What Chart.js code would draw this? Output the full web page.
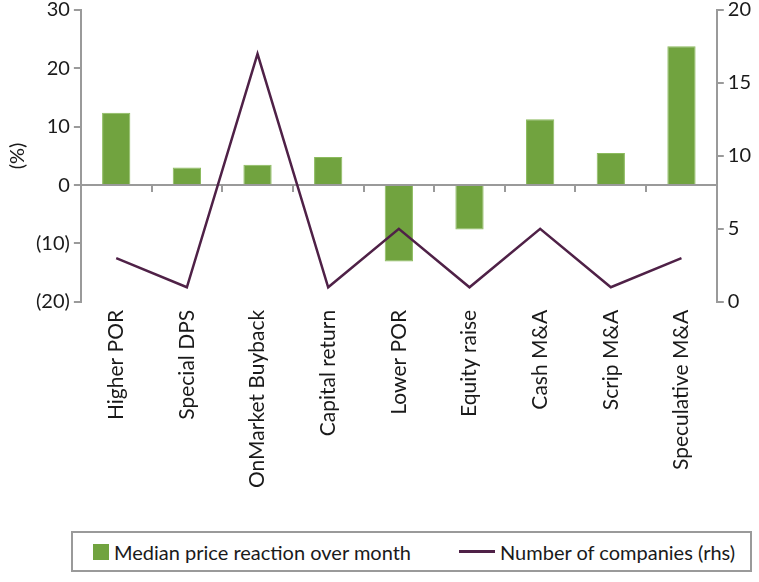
<!DOCTYPE html>
<html>
<head>
<meta charset="utf-8">
<script src="https://cdn.jsdelivr.net/npm/chart.js@4.4.1/dist/chart.umd.min.js"></script>
<style>
    html, body { margin: 0; padding: 0; background: #fff; overflow: hidden; }
    #wrap { position: relative; width: 759px; height: 582px; overflow: hidden; }
    #chart { position: absolute; left: 0; top: -6px; }
    #legend {
        position: absolute; left: 71px; top: 531px; width: 681px; height: 41px;
        border: 2px solid #9a9a9a; box-sizing: border-box;
        font-family: Lato, "Noto Sans", sans-serif; font-size: 20px; color: #1a1a1a;
        display: flex; align-items: center;
    }
    #legend .item { display: flex; align-items: center; white-space: nowrap; }
    #legend .mark { display: inline-block; margin-right: 5px; }
</style>
</head>
<body>
<div id="wrap">
    <canvas id="chart" width="759" height="528"></canvas>
    <div id="legend"></div>
</div>
<script>
    const categories = ["Higher POR", "Special DPS", "OnMarket Buyback", "Capital return",
        "Lower POR", "Equity raise", "Cash M&A", "Scrip M&A", "Speculative M&A"];
    const priceReaction = [12.4, 3.0, 3.5, 4.8, -13.1, -7.6, 11.3, 5.5, 23.8];
    const companyCount = [3, 1, 17, 1, 5, 1, 5, 1, 3];
    const leftTicks = [-20, -10, 0, 10, 20, 30];
    const rightTicks = [0, 5, 10, 15, 20];

    const GREEN = "#71a33f",
        PURPLE = "#4f2147",
        AXIS = "#9a9a9a",
        FONT = "Lato, 'Noto Sans', sans-serif";

    function bracketNeg(v) {
        return v < 0 ? "(" + Math.abs(v) + ")" : String(v);
    }

    const chart = new Chart(document.getElementById("chart"), {
        type: "bar",
        data: {
            labels: categories,
            datasets: [{
                type: "bar",
                label: "Median price reaction over month",
                data: priceReaction,
                backgroundColor: GREEN,
                borderColor: "#8cbb5e",
                borderWidth: 1,
                barPercentage: 0.8,
                categoryPercentage: 0.5,
                yAxisID: "y",
                order: 2
            }, {
                type: "line",
                label: "Number of companies (rhs)",
                data: companyCount,
                borderColor: PURPLE,
                borderWidth: 2.5,
                pointRadius: 0,
                tension: 0,
                yAxisID: "y2",
                order: 1
            }]
        },
        options: {
            responsive: false,
            animation: false,
            layout: { padding: { left: 6, right: 4, top: 0, bottom: 26 } },
            plugins: {
                legend: { display: false },
                tooltip: { enabled: false }
            },
            scales: {
                x: {
                    position: "bottom",
                    grid: { display: false, drawTicks: false },
                    border: { display: false },
                    ticks: {
                        minRotation: 90, maxRotation: 90, padding: 8,
                        color: "#1a1a1a", font: { family: FONT, size: 21 }
                    }
                },
                xZero: {
                    type: "category",
                    labels: categories,
                    position: { y: 0 },
                    offset: true,
                    grid: {
                        display: true, drawOnChartArea: false, offset: true,
                        tickLength: 6, color: AXIS, lineWidth: 2
                    },
                    border: { display: true, color: AXIS, width: 2 },
                    ticks: { display: false }
                },
                y: {
                    position: "left",
                    min: -20, max: 30,
                    afterBuildTicks: axis => { axis.ticks = leftTicks.map(v => ({ value: v })); },
                    grid: { drawOnChartArea: false, tickLength: 7, color: AXIS, lineWidth: 2 },
                    border: { display: true, color: AXIS, width: 2 },
                    ticks: {
                        padding: 4, color: "#1a1a1a",
                        font: { family: FONT, size: 20 },
                        callback: v => bracketNeg(v)
                    },
                    title: {
                        display: true, text: "(%)", color: "#1a1a1a",
                        font: { family: FONT, size: 20 }, padding: { top: 0, bottom: 2 }
                    }
                },
                y2: {
                    position: "right",
                    min: 0, max: 20,
                    afterBuildTicks: axis => { axis.ticks = rightTicks.map(v => ({ value: v })); },
                    grid: { drawOnChartArea: false, tickLength: 7, color: AXIS, lineWidth: 2 },
                    border: { display: true, color: AXIS, width: 2 },
                    ticks: {
                        padding: 4, color: "#1a1a1a",
                        font: { family: FONT, size: 20 }
                    }
                }
            }
        }
    });

    // html legend built from the datasets
    const $legend = document.getElementById("legend");
    $legend.innerHTML = chart.data.datasets.map((ds, idx) => {
        const mark = ds.type === "bar"
            ? `<span class="mark" style="width:16px;height:16px;background:${ds.backgroundColor}"></span>`
            : `<span class="mark" style="width:36px;height:3px;background:${ds.borderColor}"></span>`;
        const gap = idx === 0 ? "margin-left:20px" : "margin-left:48px";
        return `<span class="item" style="${gap}">${mark}${ds.label}</span>`;
    }).join("");
</script>
</body>
</html>
